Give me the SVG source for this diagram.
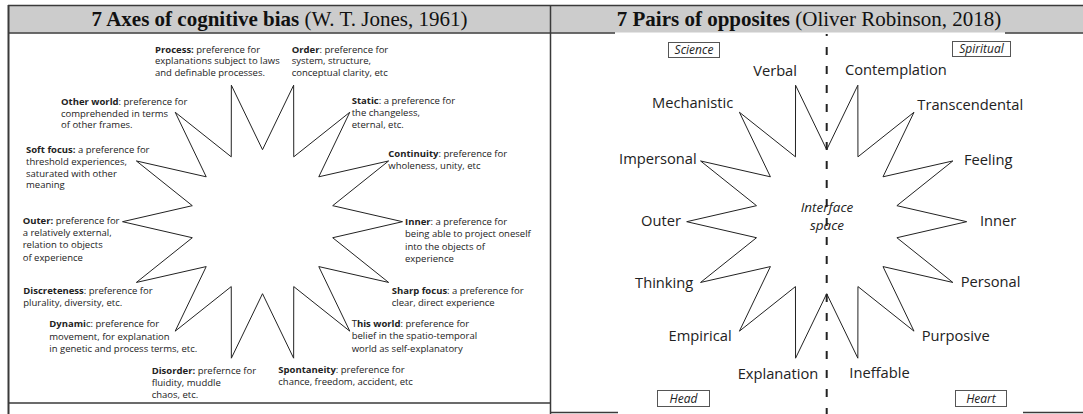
<svg xmlns="http://www.w3.org/2000/svg" xmlns:xlink="http://www.w3.org/1999/xlink" width="1083" height="414" viewBox="0 0 1083 414">
<style>
.hd{font-family:"Liberation Serif","Times New Roman",serif;font-size:21px;fill:#111}
.hd .b{font-weight:bold}
.lt{font-family:"Open Sans","Liberation Sans",sans-serif;font-size:9.5px;fill:#222}
.lt .b{font-weight:bold}
.rl{font-family:"Open Sans","Liberation Sans",sans-serif;font-size:14.7px;fill:#222}
.bx{fill:#fff;stroke:#555;stroke-width:1}
.bt{font-family:"Open Sans","Liberation Sans",sans-serif;font-size:12px;font-style:italic;fill:#222;text-anchor:middle}
.it{font-family:"Open Sans","Liberation Sans",sans-serif;font-size:13.5px;font-style:italic;fill:#222;text-anchor:middle}
.star{fill:none;stroke:#222;stroke-width:1}
.bd{stroke:#3a3a3a;stroke-width:1.5;fill:none}
.e{text-anchor:end}
</style>
<defs>
<path id="star" d="M0,-72 L31.15,-136.49 L31.24,-64.87 L87.29,-109.45 L56.29,-44.89 L126.14,-60.75 L70.19,-16.02 L140,0 L70.19,16.02 L126.14,60.75 L56.29,44.89 L87.29,109.45 L31.24,64.87 L31.15,136.49 L0,72 L-31.15,136.49 L-31.24,64.87 L-87.29,109.45 L-56.29,44.89 L-126.14,60.75 L-70.19,16.02 L-140,0 L-70.19,-16.02 L-126.14,-60.75 L-56.29,-44.89 L-87.29,-109.45 L-31.24,-64.87 L-31.15,-136.49 Z"/>
</defs>
<rect x="0" y="0" width="1083" height="414" fill="#fff"/>
<g id="frame">
<rect x="8" y="5.5" width="1075" height="27" fill="#cccccc"/>
<line class="bd" x1="8" y1="5.5" x2="1083" y2="5.5"/>
<line class="bd" x1="8" y1="33" x2="615" y2="33"/>
<line class="bd" x1="1005" y1="33" x2="1083" y2="33"/>
<line class="bd" x1="8.5" y1="5" x2="8.5" y2="414" style="stroke-width:2"/>
<line class="bd" x1="550.5" y1="5" x2="550.5" y2="414"/>
<line class="bd" x1="8" y1="403" x2="550" y2="403"/>
<line class="bd" x1="551" y1="412.5" x2="618" y2="412.5"/>
<line class="bd" x1="1023" y1="412.5" x2="1083" y2="412.5"/>
</g>
<g id="header-left"><text class="hd" x="279.5" y="26" text-anchor="middle"><tspan class="b">7 Axes of cognitive bias</tspan> (W. T. Jones, 1961)</text></g>
<g id="header-right"><text class="hd" x="809" y="26" text-anchor="middle"><tspan class="b">7 Pairs of opposites</tspan> (Oliver Robinson, 2018)</text></g>

<g id="connectors">
<use xlink:href="#star" href="#star" class="star" transform="translate(262.5,221.7)"/>
<use xlink:href="#star" href="#star" class="star" transform="translate(826.7,221.7)"/>
<line x1="826.7" y1="34" x2="826.7" y2="414" stroke="#222" stroke-width="2" stroke-dasharray="8 11" stroke-dashoffset="6"/>
</g>

<g class="lt">
<g id="process"><text x="155" y="52.5"><tspan class="b">Process:</tspan>  preference for</text><text x="155" y="64.2">explanations subject to laws</text><text x="155" y="75.9">and definable processes.</text></g>
<g id="order"><text x="291.7" y="52.5"><tspan class="b">Order</tspan>: preference for</text><text x="291.7" y="64.2">system, structure,</text><text x="291.7" y="75.9">conceptual clarity, etc</text></g>
<g id="other-world"><text x="61" y="105"><tspan class="b">Other world</tspan>:  preference for</text><text x="61" y="116.7">comprehended in terms</text><text x="61" y="128.4">of other frames.</text></g>
<g id="static"><text x="351.7" y="104"><tspan class="b">Static</tspan>: a preference for</text><text x="351.7" y="116">the changeless,</text><text x="351.7" y="128">eternal, etc.</text></g>
<g id="soft-focus"><text x="26" y="153.3"><tspan class="b">Soft focus:</tspan>  a preference for</text><text x="26" y="165">threshold experiences,</text><text x="26" y="176.7">saturated with other</text><text x="26" y="188.4">meaning</text></g>
<g id="continuity"><text x="388.3" y="157.3"><tspan class="b">Continuity</tspan>:  preference for</text><text x="388.3" y="169.3">wholeness, unity, etc</text></g>
<g id="outer"><text x="22.7" y="224"><tspan class="b">Outer:</tspan>  preference for</text><text x="22.7" y="236.2">a relatively external,</text><text x="22.7" y="248.4"> relation to  objects</text><text x="22.7" y="260.6">of experience</text></g>
<g id="inner"><text x="405" y="225"><tspan class="b">Inner</tspan>:  a preference for</text><text x="405" y="237.3">being able to project oneself</text><text x="405" y="249.6">into the objects of</text><text x="405" y="261.9">experience</text></g>
<g id="discreteness"><text x="23.3" y="294"><tspan class="b">Discreteness</tspan>:  preference for</text><text x="23.3" y="306.2">plurality, diversity, etc.</text></g>
<g id="sharp-focus"><text x="391.7" y="294"><tspan class="b">Sharp focus</tspan>:  a preference for</text><text x="391.7" y="306.2">clear, direct experience</text></g>
<g id="dynamic"><text x="49.3" y="327.3"><tspan class="b">Dynami</tspan>c:  preference for</text><text x="49.3" y="339.5">movement, for explanation</text><text x="49.3" y="351.7">in genetic and process terms, etc.</text></g>
<g id="this-world"><text x="351.7" y="327"><tspan>T</tspan><tspan class="b">his world</tspan>:  preference for</text><text x="351.7" y="339.3">belief in the spatio-temporal</text><text x="351.7" y="351.6">world as self-explanatory</text></g>
<g id="disorder"><text x="151.7" y="374"><tspan class="b">Disorder:</tspan>  prefernce for</text><text x="151.7" y="386.2">fluidity, muddle</text><text x="151.7" y="398.4">chaos, etc.</text></g>
<g id="spontaneity"><text x="278.3" y="373"><tspan class="b">Spontaneity</tspan>: preference for</text><text x="278.3" y="385.3">chance, freedom, accident, etc</text></g>
</g>

<g class="rl">
<g id="verbal"><text class="e" x="797" y="76">Verbal</text></g>
<g id="contemplation"><text x="845" y="75">Contemplation</text></g>
<g id="mechanistic"><text class="e" x="733.3" y="108">Mechanistic</text></g>
<g id="transcendental"><text x="917.3" y="110">Transcendental</text></g>
<g id="impersonal"><text class="e" x="696.7" y="163.5">Impersonal</text></g>
<g id="feeling"><text x="964" y="165">Feeling</text></g>
<g id="outer-r"><text class="e" x="681" y="226">Outer</text></g>
<g id="inner-r"><text x="980" y="226">Inner</text></g>
<g id="thinking"><text class="e" x="693.3" y="288">Thinking</text></g>
<g id="personal"><text x="960.7" y="287">Personal</text></g>
<g id="empirical"><text class="e" x="731.7" y="341">Empirical</text></g>
<g id="purposive"><text x="921.7" y="341">Purposive</text></g>
<g id="explanation"><text class="e" x="818.3" y="379">Explanation</text></g>
<g id="ineffable"><text x="849.3" y="377.5">Ineffable</text></g>
</g>

<g id="interface"><text class="it" x="827" y="212">Interface</text><text class="it" x="827" y="230">space</text></g>
<g id="science"><rect class="bx" x="668.5" y="42.5" width="51" height="15"/><text class="bt" x="694" y="54">Science</text></g>
<g id="spiritual"><rect class="bx" x="952.5" y="41.5" width="58" height="15"/><text class="bt" x="981.5" y="53">Spiritual</text></g>
<g id="head"><rect class="bx" x="657.5" y="390.5" width="52" height="16"/><text class="bt" x="683.5" y="402.5">Head</text></g>
<g id="heart"><rect class="bx" x="955.5" y="390.5" width="51" height="16"/><text class="bt" x="981" y="402.5">Heart</text></g>
</svg>
